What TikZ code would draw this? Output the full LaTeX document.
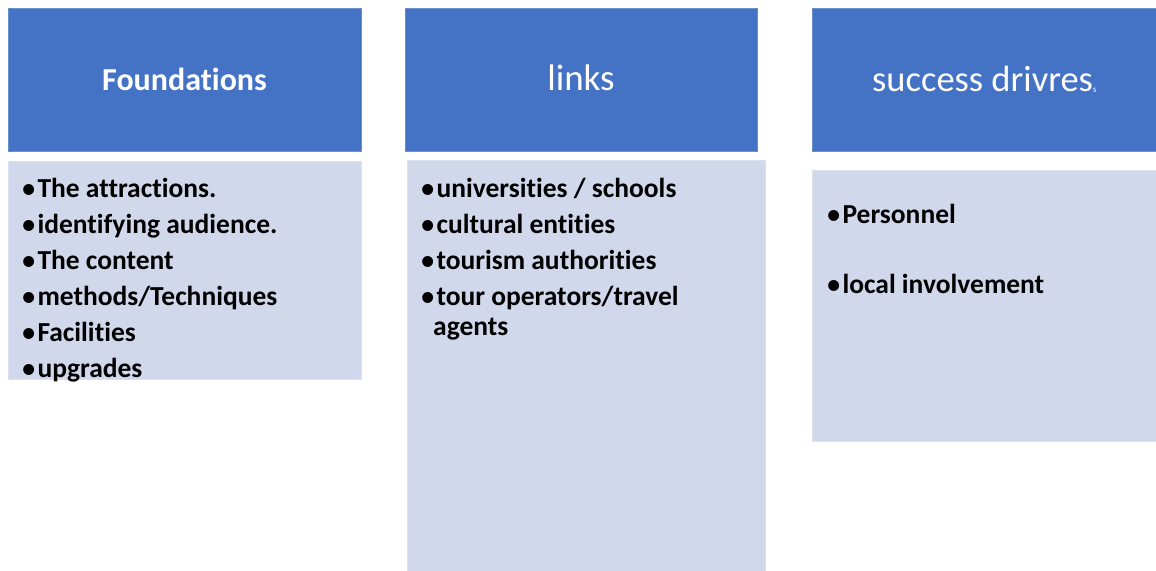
\documentclass[tikz,border=0pt]{standalone}
\usepackage{fontspec}
\setmainfont[Ligatures=NoCommon]{Carlito}
\newfontfamily\bulletfont{Liberation Sans}
\definecolor{hblue}{HTML}{4472C4}
\definecolor{lblue}{HTML}{D2D8EB}
\definecolor{lborder}{HTML}{DCE1F0}
\newcommand{\bul}{\smash{\raisebox{-5.3pt}{\bulletfont\fontsize{38}{40}\selectfont•}}\kern2pt}
\tikzset{
  head/.style={fill=hblue, draw=hblue!80!white, line width=0.6pt},
  bodybox/.style={fill=lblue, draw=lborder, line width=0.8pt},
  htext/.style={text=white, inner sep=0pt, anchor=center},
  item/.style={inner sep=0pt, anchor=base west, font=\fontsize{27.5}{32}\selectfont\bfseries, text=black}
}
\begin{document}
\begin{tikzpicture}[x=1pt,y=-1pt]
\useasboundingbox (0,0) rectangle (1156,570);
% headers
\path[head] (8,8) rectangle (361,151);
\path[head] (405,8) rectangle (757,151);
\path[head] (812,8) rectangle (1160,151);
% bodies
\path[bodybox] (8,161) rectangle (361,379);
\path[bodybox] (407,160) rectangle (765,572);
\path[bodybox] (812,170) rectangle (1160,441);
% header texts
\node[htext, font=\fontsize{32}{36}\selectfont\bfseries] (h1) at (184.5,79) {Foundations};
\node[htext, font=\fontsize{37}{42}\selectfont] (h2) at (581,78) {links};
\node[htext, font=\fontsize{36.5}{42}\selectfont, anchor=base west] (h3) at (872,91) {success drivres\raisebox{-1pt}{\fontsize{9}{10}\selectfont s}};
% column 1
\node[item] (a1) at (22,197) {\bul The attractions.};
\node[item] (a2) at (22,233) {\bul identifying audience.};
\node[item] (a3) at (22,269) {\bul The content};
\node[item] (a4) at (22,305) {\bul methods/Techniques};
\node[item] (a5) at (22,341) {\bul Facilities};
\node[item] (a6) at (22,377) {\bul upgrades};
% column 2
\node[item] (b1) at (421,197) {\bul universities / schools};
\node[item] (b2) at (421,233) {\bul cultural entities};
\node[item] (b3) at (421,269) {\bul tourism authorities};
\node[item] (b4) at (421,305) {\bul tour operators/travel};
\node[item] (b5) at (433,335) {agents};
% column 3
\node[item] (c1) at (827,223) {\bul Personnel};
\node[item] (c2) at (827,293) {\bul local involvement};
\end{tikzpicture}
\end{document}
